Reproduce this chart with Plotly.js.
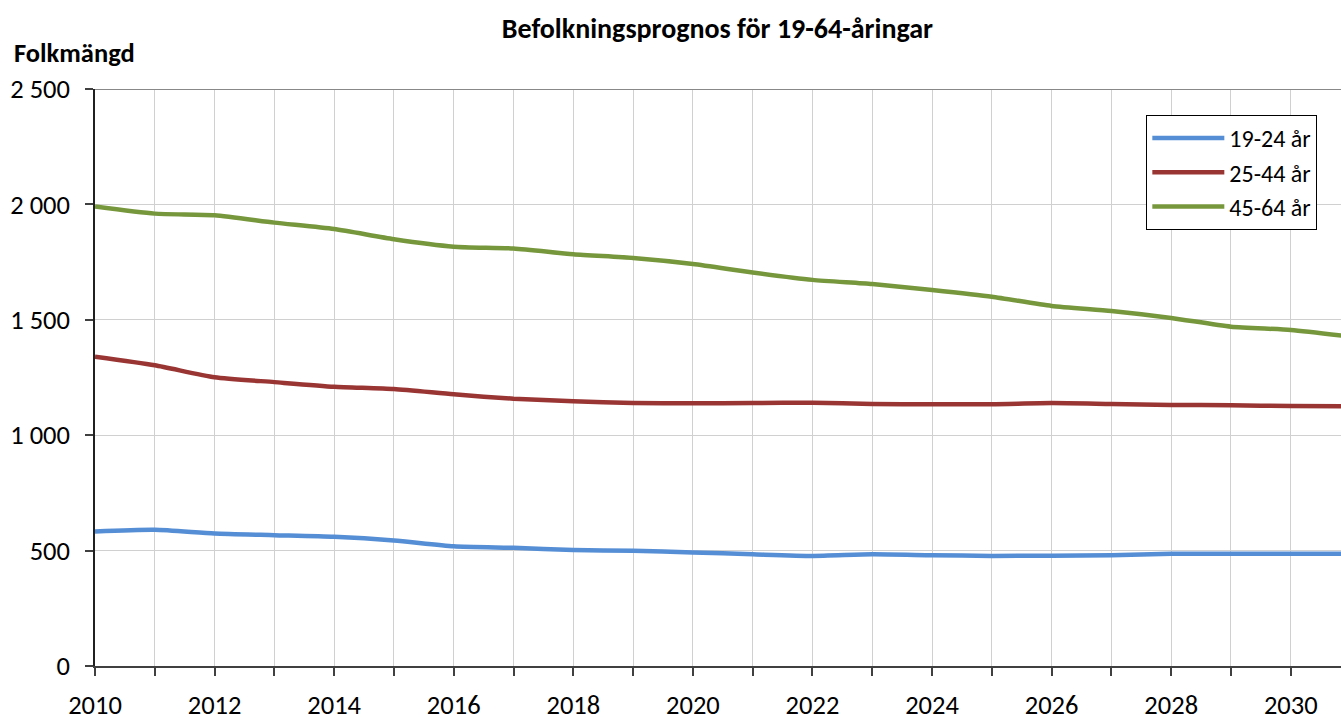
<!DOCTYPE html>
<html>
<head>
<meta charset="utf-8">
<script src="https://cdn.plot.ly/plotly-3.0.1.min.js"></script>
<style>html,body{margin:0;padding:0;background:#fff;}#chart{width:1341px;height:718px;}</style>
</head>
<body>
<div id="chart"></div>
<script>
const years = [2010,2011,2012,2013,2014,2015,2016,2017,2018,2019,2020,2021,2022,2023,2024,2025,2026,2027,2028,2029,2030,2031];
const age19_24 = [583,590,574,567,560,544,519,512,503,499,492,484,477,484,480,477,478,480,486,486,486,486];
const age25_44 = [1340,1303,1251,1230,1210,1200,1177,1158,1147,1139,1138,1139,1141,1135,1134,1134,1139,1135,1131,1130,1126,1125];
const age45_64 = [1991,1960,1953,1921,1893,1849,1817,1809,1784,1768,1742,1705,1673,1655,1629,1600,1560,1538,1508,1470,1456,1427];
const seriesNames = ['19-24 år','25-44 år','45-64 år'];
const seriesColors = ['#558ED5','#993533','#77973D'];
const tickYears = [2010,2011,2012,2013,2014,2015,2016,2017,2018,2019,2020,2021,2022,2023,2024,2025,2026,2027,2028,2029,2030];
const tickLabels = tickYears.map(y => (y % 2 === 0 ? String(y) : ''));
const yTicks = [0,500,1000,1500,2000,2500];
const yTickLabels = ['0','500','1 000','1 500','2 000','2 500'];
const FONT = 'Carlito, Lato, "Open Sans", sans-serif';
const FS = 26.5;

const allSeries = [age19_24, age25_44, age45_64];
const traces = allSeries.map((vals, i) => ({
  x: years, y: vals, type: 'scatter', mode: 'lines', name: seriesNames[i],
  line: {color: seriesColors[i], width: 4.5, shape: 'spline', smoothing: 0.6},
  hoverinfo: 'x+y'
}));

const layout = {
  width: 1341, height: 718,
  margin: {l: 95, r: 0, t: 89, b: 52, pad: 0},
  paper_bgcolor: '#fff', plot_bgcolor: '#fff',
  font: {family: FONT, size: FS, color: '#000'},
  title: {text: '<b>Befolkningsprognos för 19-64-åringar</b>', x: 0.535, xanchor: 'center', y: 0.961, yanchor: 'middle', font: {family: FONT, size: 28, color: '#000'}},
  showlegend: true,
  legend: {x: 0.981, xanchor: 'right', y: 0.955, yanchor: 'top', bgcolor: '#fff', bordercolor: '#000', borderwidth: 1, font: {family: FONT, size: 24, color: '#000'}, tracegroupgap: 0, itemwidth: 72},
  xaxis: {
    range: [2010, 2030.84], tickmode: 'array', tickvals: tickYears, ticktext: tickLabels,
    showgrid: true, gridcolor: '#d0d0d0', gridwidth: 1,
    showline: true, linecolor: '#404040', linewidth: 1.5,
    ticks: 'outside', ticklen: 8, tickcolor: '#404040', tickwidth: 1.5,
    ticklabelstandoff: 6, zeroline: false, fixedrange: true,
    tickfont: {family: FONT, size: FS, color: '#000'}
  },
  yaxis: {
    range: [0, 2500], tickmode: 'array', tickvals: yTicks, ticktext: yTickLabels,
    showgrid: true, gridcolor: '#d0d0d0', gridwidth: 1,
    showline: true, linecolor: '#202020', linewidth: 1.5,
    ticks: 'outside', ticklen: 8, tickcolor: '#404040', tickwidth: 1.5,
    ticklabelstandoff: 10, zeroline: false, fixedrange: true,
    tickfont: {family: FONT, size: FS, color: '#000'}
  },
  shapes: [{type: 'line', xref: 'paper', yref: 'y', x0: 0, x1: 1, y0: 2500, y1: 2500, line: {color: '#888888', width: 2}}],
  annotations: [{text: '<b>Folkmängd</b>', xref: 'paper', yref: 'paper', x: -0.0668, xanchor: 'left', y: 1.062, yanchor: 'middle', showarrow: false, font: {family: FONT, size: 26.5, color: '#000'}}]
};

Plotly.newPlot('chart', traces, layout, {displayModeBar: false, responsive: false});
</script>
</body>
</html>
